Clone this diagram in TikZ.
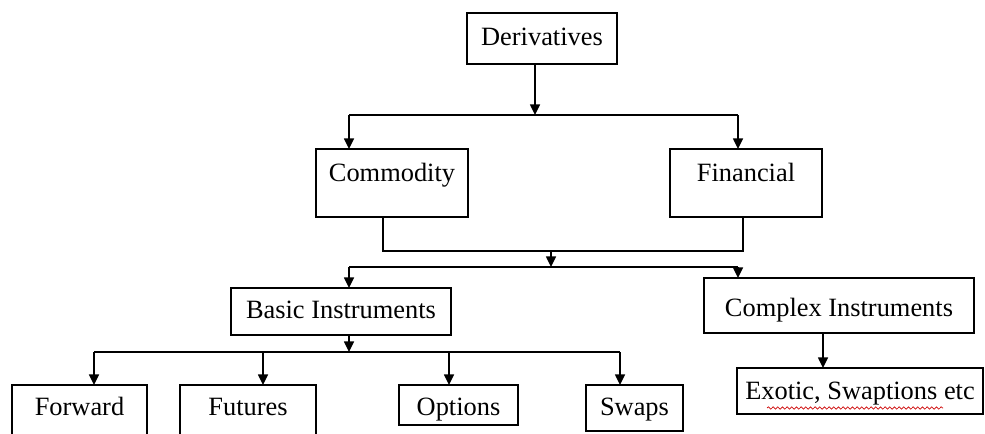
\documentclass[tikz,border=0pt]{standalone}
\usepackage{fontspec}
\setmainfont{Liberation Serif}
\usetikzlibrary{arrows.meta,decorations.pathmorphing}
\tikzset{
  box/.style={draw, line width=1.1pt, inner xsep=0pt, inner ysep=0pt, outer sep=0pt,
    font=\fontsize{19.8}{22}\selectfont, align=center},
  conn/.style={line width=1.1pt},
  arr/.style={conn, -{Triangle[length=8pt,width=7.5pt]}},
}
\newcommand\dbox[7]{%
  \pgfmathsetmacro\myBw{(#4-#2)*0.75}%
  \pgfmathsetmacro\myBh{(#6-#3)*0.75}%
  \pgfmathsetmacro\myBd{(#5-#6)*0.75}%
  \node[box, minimum width=\myBw pt, text height=\myBh pt, text depth=\myBd pt,
        anchor=north west] (#1) at (#2,#3) {#7};}
\begin{document}
\begin{tikzpicture}[x=0.75pt,y=-0.75pt]
\useasboundingbox (0,0) rectangle (985,433);
\clip (0,0) rectangle (985,433);
% boxes
\dbox{der}{467}{13}{617}{64}{45}{Derivatives}
\dbox{com}{316}{149}{468}{217}{181}{Commodity}
\dbox{fin}{670}{149}{822}{217}{181}{Financial}
\dbox{bas}{231}{288}{451}{335}{318}{Basic Instruments}
\dbox{cpx}{704}{278}{974}{333}{316}{Complex Instruments}
\dbox{fwd}{12}{385}{147}{445}{415}{Forward}
\dbox{fut}{180}{385}{316}{445}{415}{Futures}
\dbox{opt}{399}{385}{518}{425}{415}{Options}
\dbox{swp}{586}{385}{683}{431}{415}{Swaps}
\dbox{exo}{737}{368}{983}{414}{399}{Exotic, Swaptions etc}
% spell-check squiggle
\draw[red!80!black, line width=0.5pt, decorate,
      decoration={snake, amplitude=0.9pt, segment length=3.5pt}]
  (767,408) -- (943,408);
% junction coordinates
\coordinate (j1) at (535,115);
\coordinate (j1l) at (349,115);
\coordinate (j1r) at (738,115);
\coordinate (j2l) at (383,251);
\coordinate (j2r) at (743,251);
\coordinate (j2m) at (551,251);
\coordinate (j3) at (551,267);
\coordinate (j3l) at (349,267);
\coordinate (j3r) at (738,267);
\coordinate (j4) at (349,352);
\coordinate (j4a) at (94,352);
\coordinate (j4b) at (263,352);
\coordinate (j4c) at (449,352);
\coordinate (j4d) at (620,352);
\coordinate (j5) at (823,333);
% connectors
\draw[arr] (der.south -| j1) -- (j1);
\draw[conn] (j1l) -- (j1r);
\draw[arr] (j1l) -- (com.north -| j1l);
\draw[arr] (j1r) -- (fin.north -| j1r);
\draw[conn] (com.south -| j2l) -- (j2l) -- (j2r) -- (fin.south -| j2r);
\draw[arr] (j2m) -- (j3);
\draw[conn] (j3l) -- (j3r);
\draw[arr] (j3l) -- (bas.north -| j3l);
\draw[arr] (j3r) -- (cpx.north -| j3r);
\draw[arr] (bas.south -| j4) -- (j4);
\draw[conn] (j4a) -- (j4d);
\draw[arr] (j4a) -- (fwd.north -| j4a);
\draw[arr] (j4b) -- (fut.north -| j4b);
\draw[arr] (j4c) -- (opt.north -| j4c);
\draw[arr] (j4d) -- (swp.north -| j4d);
\draw[arr] (j5) -- (exo.north -| j5);
\end{tikzpicture}
\end{document}
